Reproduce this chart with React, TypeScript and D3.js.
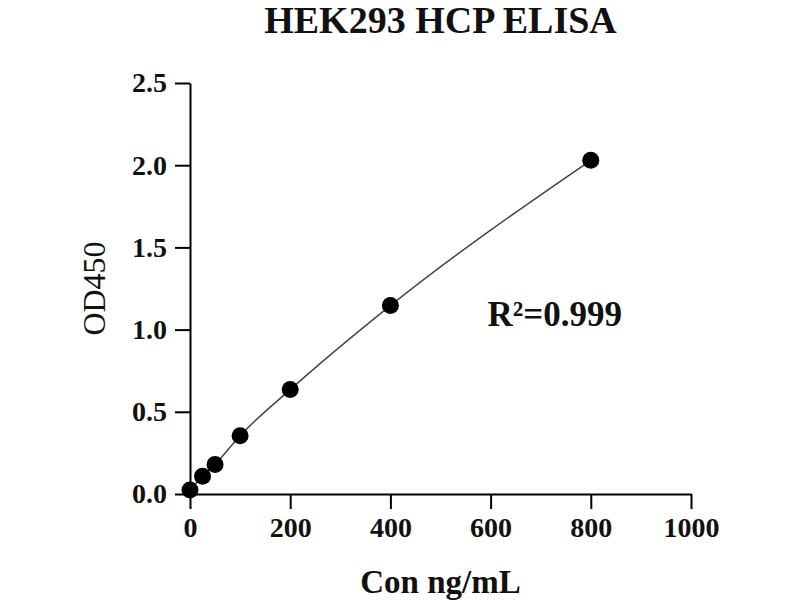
import React, { useRef, useEffect } from "react";
import * as d3 from "d3";

const concentrations = [0, 25, 50, 100, 200, 400, 800];
const od450 = [0.024, 0.108, 0.18, 0.355, 0.635, 1.146, 2.03];
const xTicks = [0, 200, 400, 600, 800, 1000];
const yTicks = [0, 0.5, 1.0, 1.5, 2.0, 2.5];
const title = "HEK293 HCP ELISA";
const xLabel = "Con ng/mL";
const yLabel = "OD450";
const r2Label = "R²=0.999";

const width = 800;
const height = 600;
const margin = { top: 83, right: 109, bottom: 106, left: 190 };
const font = "'Liberation Serif', 'Times New Roman', serif";

function App() {
  const svgRef = useRef<SVGSVGElement>(null);

  useEffect(() => {
    if (!svgRef.current) {
      return;
    }
    const svg = d3.select(svgRef.current);
    svg.selectAll("*").remove();

    const x = d3
      .scaleLinear()
      .domain([0, 1000])
      .range([margin.left, width - margin.right]);
    const y = d3
      .scaleLinear()
      .domain([0, 2.5])
      .range([height - margin.bottom, margin.top]);

    const data = concentrations.map((c, i) => ({ x: c, y: od450[i] }));

    // axes
    const xAxis = svg
      .append("g")
      .attr("transform", `translate(0,${y(0)})`)
      .call(
        d3
          .axisBottom(x)
          .tickValues(xTicks)
          .tickSize(15)
          .tickPadding(8)
          .tickSizeOuter(0)
          .tickFormat((d) => String(d))
      );
    const yAxis = svg
      .append("g")
      .attr("transform", `translate(${x(0)},0)`)
      .call(
        d3
          .axisLeft(y)
          .tickValues(yTicks)
          .tickSize(15)
          .tickPadding(8)
          .tickSizeOuter(0)
          .tickFormat(d3.format(".1f"))
      );
    [xAxis, yAxis].forEach((g) => {
      g.select(".domain").attr("stroke", "#000").attr("stroke-width", 2);
      g.selectAll(".tick line").attr("stroke", "#000").attr("stroke-width", 2);
      g.selectAll(".tick text")
        .attr("fill", "#111")
        .style("font-family", font)
        .style("font-weight", "bold")
        .style("font-size", "28px");
    });

    // fitted line
    const line = d3
      .line<{ x: number; y: number }>()
      .x((d) => x(d.x))
      .y((d) => y(d.y))
      .curve(d3.curveMonotoneX);
    svg
      .append("path")
      .datum(data)
      .attr("fill", "none")
      .attr("stroke", "#444")
      .attr("stroke-width", 1.5)
      .attr("d", line);

    // points
    svg
      .append("g")
      .selectAll("circle")
      .data(data)
      .join("circle")
      .attr("cx", (d) => x(d.x))
      .attr("cy", (d) => y(d.y))
      .attr("r", 8.5)
      .attr("fill", "#000");

    // texts
    svg
      .append("text")
      .attr("x", (x(0) + x(1000)) / 2)
      .attr("y", 33)
      .attr("text-anchor", "middle")
      .style("font-family", font)
      .style("font-weight", "bold")
      .style("font-size", "38px")
      .attr("fill", "#111")
      .text(title);

    svg
      .append("text")
      .attr("x", (x(0) + x(1000)) / 2)
      .attr("y", 593)
      .attr("text-anchor", "middle")
      .style("font-family", font)
      .style("font-weight", "bold")
      .style("font-size", "33px")
      .attr("fill", "#111")
      .text(xLabel);

    svg
      .append("text")
      .attr("transform", `translate(105,${(y(0) + y(2.5)) / 2}) rotate(-90)`)
      .attr("text-anchor", "middle")
      .style("font-family", font)
      .style("font-size", "32px")
      .attr("fill", "#111")
      .text(yLabel);

    svg
      .append("text")
      .attr("x", x(728))
      .attr("y", y(1.0) - 4)
      .attr("text-anchor", "middle")
      .style("font-family", font)
      .style("font-weight", "bold")
      .style("font-size", "35px")
      .attr("fill", "#111")
      .text(r2Label);
  }, []);

  return (
    <div>
      <svg
        ref={svgRef}
        width={width}
        height={height}
        style={{ position: "absolute", left: 0, top: 0, background: "#fff" }}
      />
    </div>
  );
}

export default App;
